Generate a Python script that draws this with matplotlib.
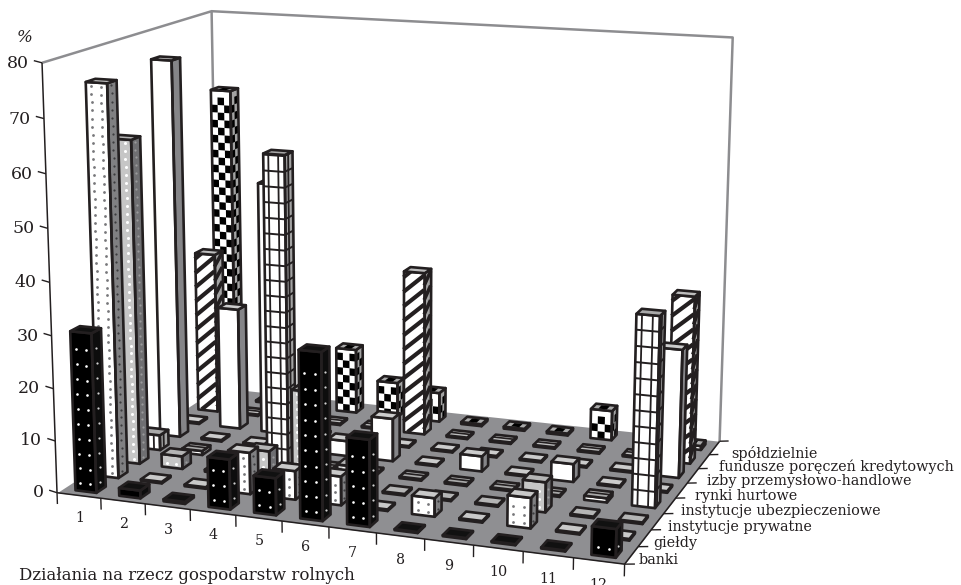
#!/usr/bin/env python3
# -*- coding: utf-8 -*-
import numpy as np
import matplotlib
matplotlib.use('Agg')
import matplotlib.pyplot as plt
from mpl_toolkits.mplot3d import proj3d
from mpl_toolkits.mplot3d.art3d import Poly3DCollection

# udzial instytucji w dzialaniach (%), kolumny 1-12
banki = [30.5, 1.5, 0.4, 9.5, 7, 31.3, 16.2, 0.2, 0.2, 0.2, 0.2, 5.2]
gieldy = [75, 0.3, 0.3, 8, 5.5, 5.5, 0.3, 3.5, 0.3, 5.7, 0.3, 0.3]
prywatne = [63, 2.5, 0.4, 5.5, 18, 4.5, 0.3, 0.3, 0.3, 5.7, 0.3, 0.3]
ubezpieczeniowe = [3, 0.8, 0.3, 60.3, 0.3, 0.3, 0.3, 0.3, 0.3, 0.3, 0.8, 36]
hurtowe = [75.2, 0.3, 0.3, 0.3, 3, 8.5, 0.3, 3, 0.3, 3.5, 0.3, 0.3]
izby = [0.3, 24.6, 50.5, 0.3, 0.3, 0.3, 0.3, 0.3, 0.3, 0.3, 0.3, 25]
fundusze = [33, 0.3, 0.3, 0.3, 0.3, 33, 0.3, 0.3, 0.3, 0.3, 0.3, 33]
spoldzielnie = [65, 0.3, 0.3, 13.3, 7.2, 6, 0.4, 0.4, 0.4, 6, 0.4, 0.8]

series = [banki, gieldy, prywatne, ubezpieczeniowe, hurtowe, izby, fundusze, spoldzielnie]
series_names = ['banki', 'giełdy', 'instytucje prywatne', 'instytucje ubezpieczeniowe',
                'rynki hurtowe', 'izby przemysłowo-handlowe',
                'fundusze poręczeń kredytowych', 'spółdzielnie']
styles = ['blackdots', 'whitedots', 'greydots', 'grid', 'plain', 'plain', 'stripes', 'checker']
z_ticks = [0, 10, 20, 30, 40, 50, 60, 70, 80]

W, H = 962, 585
BAR_W, BAR_D = 0.48, 0.42
EDGE = 1.9
DARK = '#231f20'
GREY_LINE = '#8d8d90'
FLOOR = '#8f8f92'
SERIF = 'DejaVu Serif'
CLEAR = (0, 0, 0, 0)

fig = plt.figure(figsize=(W / 100, H / 100), dpi=100)
ax = fig.add_axes([-0.00845, -0.14437, 0.82434, 1.35557], projection='3d', computed_zorder=False)
ax.set_xlim(0, 12)
ax.set_ylim(0, 8)
ax.set_zlim(0, 80)
ax.view_init(13.5768, -69.9270)
ax.set_proj_type('persp', focal_length=0.5656)
ax.set_box_aspect((1.3489, 0.9052, 1))
ax.set_axis_off()

order = [10]


def next_z():
    order[0] += 1
    return order[0]


def poly(verts, fc, ec=CLEAR, lw=0):
    c = Poly3DCollection([verts], facecolors=fc, edgecolors=ec, linewidths=lw, joinstyle='round')
    ax.add_collection3d(c)
    c.set_zorder(next_z())


def line(xs, ys, zs, color=DARK, lw=1.0, **kw):
    ax.plot(xs, ys, zs, color=color, lw=lw, zorder=next_z(), solid_capstyle='butt', **kw)


def label(x, y, z, s, **kw):
    # opis w punkcie rzutowanym na plaszczyzne rysunku
    xp, yp, _ = proj3d.proj_transform(x, y, z, ax.get_proj())
    ax.text2D(xp, yp, s, transform=ax.transData, family=SERIF, color=DARK, zorder=5, **kw)


def front_pt(x0, y0, u, z):
    return (x0 + u * BAR_W, y0, z)


def side_pt(x0, y0, u, z):
    return (x0 + BAR_W, y0 + u * BAR_D, z)


def dots(pt, x0, y0, h, cols, color, step, ms):
    pts = []
    n = int(h / step)
    for k in range(n):
        z = (k + 0.5) * step
        for u in cols:
            pts.append(pt(x0, y0, u, z))
    if pts:
        p = np.array(pts)
        ax.plot(p[:, 0], p[:, 1], p[:, 2], ls='', marker='o', ms=ms, mew=0, color=color, zorder=next_z())


def stripes(pt, x0, y0, h, rise, lw):
    # ukosne pasy przyciete do wysokosci sciany
    period = 2.95
    for z0 in np.arange(-rise, h, period):
        u0, u1 = 0.0, 1.0
        if z0 < 0:
            u0 = -z0 / rise
        if z0 + rise > h:
            u1 = (h - z0) / rise
        if u1 <= u0:
            continue
        a = pt(x0, y0, u0, z0 + u0 * rise)
        b = pt(x0, y0, u1, z0 + u1 * rise)
        line([a[0], b[0]], [a[1], b[1]], [a[2], b[2]], lw=lw)


def checker(pt, x0, y0, h, ncols):
    cell = 1.55
    nrows = int(h / cell)
    for r in range(nrows):
        for c in range(ncols):
            if (r + c) % 2 == 1:
                u0, u1 = c / ncols, (c + 1) / ncols
                z0, z1 = r * cell, (r + 1) * cell
                poly([pt(x0, y0, u0, z0), pt(x0, y0, u1, z0), pt(x0, y0, u1, z1), pt(x0, y0, u0, z1)], 'black')


def grid_lines(pt, x0, y0, h, us):
    for z in np.arange(3.0, h, 3.0):
        a, b = pt(x0, y0, 0, z), pt(x0, y0, 1, z)
        line([a[0], b[0]], [a[1], b[1]], [z, z], lw=1.4)
    if h > 2:
        for u in us:
            a, b = pt(x0, y0, u, 0), pt(x0, y0, u, h)
            line([a[0], b[0]], [a[1], b[1]], [0, h], lw=1.3)


face_colors = {'blackdots': ('black', '#0d0d0d', '#111111'),
               'whitedots': ('white', '#808082', '#c9c9c9'),
               'greydots': ('#c6c6c6', '#6f6f72', '#b5b5b5'),
               'grid': ('white', '#a3a3a3', '#a9a9a9'),
               'plain': ('white', '#858588', '#cccccc'),
               'stripes': ('white', '#a3a3a3', '#bdbdbd'),
               'checker': ('white', '#a3a3a3', '#a9a9a9')}


def draw_bar(col, row, h, style):
    x0 = col + (1 - BAR_W) / 2
    y0 = row + (1 - BAR_D) / 2
    x1, y1 = x0 + BAR_W, y0 + BAR_D
    fc, sc, tc = face_colors[style]
    front = [(x0, y0, 0), (x1, y0, 0), (x1, y0, h), (x0, y0, h)]
    side = [(x1, y0, 0), (x1, y1, 0), (x1, y1, h), (x1, y0, h)]
    top = [(x0, y0, h), (x1, y0, h), (x1, y1, h), (x0, y1, h)]
    poly(front, fc)
    poly(side, sc)
    if style == 'blackdots':
        dots(front_pt, x0, y0, h, [0.27, 0.73], 'white', 2.85, 1.9)
        dots(side_pt, x0, y0, h, [0.5], '#d0d0d0', 2.85, 1.6)
    elif style == 'whitedots':
        dots(front_pt, x0, y0, h, [0.27, 0.73], '#77777a', 1.5, 2.0)
        dots(side_pt, x0, y0, h, [0.5], '#3c3c3e', 1.5, 1.6)
    elif style == 'greydots':
        dots(front_pt, x0, y0, h, [0.27, 0.73], 'white', 1.5, 2.2)
        dots(side_pt, x0, y0, h, [0.5], '#9a9a9c', 1.5, 1.6)
    elif style == 'grid':
        grid_lines(front_pt, x0, y0, h, [0.26, 0.72])
        grid_lines(side_pt, x0, y0, h, [0.5])
    elif style == 'stripes':
        stripes(front_pt, x0, y0, h, 3.7, 3.0)
        stripes(side_pt, x0, y0, h, 2.0, 2.6)
    elif style == 'checker':
        checker(front_pt, x0, y0, h, 3)
        checker(side_pt, x0, y0, h, 2)
    # obrys scian i gorna pokrywa
    poly(front, CLEAR, DARK, EDGE)
    poly(side, CLEAR, DARK, EDGE)
    poly(top, tc, DARK, EDGE)
    if style == 'checker':
        mx, my = (x0 + x1) / 2, (y0 + y1) / 2
        dx, dy = BAR_W * 0.2, BAR_D * 0.3
        poly([(mx - dx, my - dy, h), (mx + dx, my - dy, h), (mx + dx, my + dy, h), (mx - dx, my + dy, h)], 'black')
    elif style in ('grid', 'stripes') and h < 1:
        my = (y0 + y1) / 2
        line([x0, x1], [my, my], [h, h], lw=1.2)


# sciany i podloga
poly([(0, 0, 0), (12, 0, 0), (12, 8, 0), (0, 8, 0)], FLOOR)
line([0, 0, 12, 12], [0, 8, 8, 8], [80, 80, 80, 0], color=GREY_LINE, lw=1.8)
line([0, 0], [8, 8], [0, 80], color=GREY_LINE, lw=1.8)

# osie i podzialki
line([0, 0], [0, 0], [0, 80], lw=1.1)
line([0, 12], [0, 0], [0, 0], lw=1.1)
line([12, 12], [0, 8], [0, 0], lw=1.1)
for t in z_ticks:
    line([-0.18, 0], [0, 0], [t + 0.3, t], lw=1.0)
    label(-0.3, 0, t - 0.3, str(t), ha='right', va='center', fontsize=12.5)
for i in range(13):
    line([i, i], [0, 0], [0, -2.2], lw=1.0)
for i in range(12):
    label(i + 0.5, 0, -4.4, str(i + 1), ha='center', va='center', fontsize=10.3)
for j in range(9):
    line([12, 12.2], [j, j], [0, 0.25], lw=1.0)
for j, name in enumerate(series_names):
    label(12.15 + 0.032 * j, j + 0.5, -0.7, name, ha='left', va='center', fontsize=10.4)

# slupki od tylu do przodu, w rzedzie od lewej do prawej
for row in range(7, -1, -1):
    for col in range(12):
        draw_bar(col, row, series[row][col], styles[row])

fig.text(25 / W, 1 - 37 / H, '%', ha='center', va='center', family=SERIF, style='italic', fontsize=12, color=DARK)
fig.text(19 / W, 1 - 575 / H, 'Działania na rzecz gospodarstw rolnych', ha='left', va='center',
         family=SERIF, fontsize=12, color=DARK)

fig.savefig('out.png', dpi=100)
